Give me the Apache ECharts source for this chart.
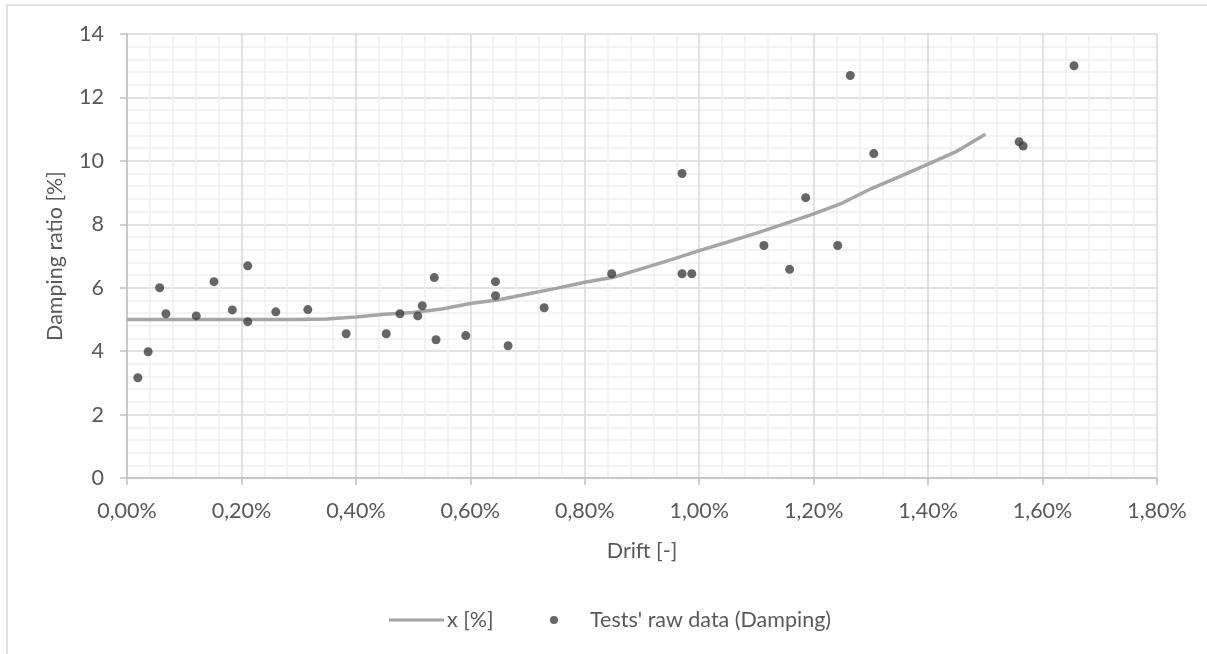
<!DOCTYPE html>
<html>
<head>
<meta charset="utf-8">
<script src="https://cdn.jsdelivr.net/npm/echarts@6/dist/echarts.min.js"></script>
<style>
html, body { margin: 0; padding: 0; background: #fff; }
#main { width: 1207px; height: 654px; }
</style>
</head>
<body>
<div id="main"></div>
<script>
// drift in %, damping ratio in %
var testDrift = [0.019, 0.037, 0.057, 0.068, 0.121, 0.152, 0.184, 0.211, 0.211, 0.260, 0.316, 0.383,
	0.453, 0.477, 0.508, 0.516, 0.537, 0.540, 0.592, 0.644, 0.644, 0.666, 0.729, 0.847,
	0.970, 0.970, 0.987, 1.113, 1.158, 1.186, 1.242, 1.264, 1.305, 1.559, 1.566, 1.655];
var testDamping = [3.16, 3.98, 6.00, 5.18, 5.11, 6.19, 5.30, 6.69, 4.93, 5.24, 5.31, 4.55,
	4.55, 5.18, 5.11, 5.43, 6.32, 4.36, 4.49, 6.19, 5.75, 4.17, 5.37, 6.44,
	9.60, 6.44, 6.44, 7.33, 6.58, 8.84, 7.33, 12.69, 10.23, 10.60, 10.47, 13.00];

var curveDrift = [0.00, 0.05, 0.10, 0.15, 0.20, 0.25, 0.30, 0.35, 0.38, 0.40, 0.45, 0.50,
	0.55, 0.60, 0.65, 0.70, 0.75, 0.80, 0.85, 0.90, 0.95, 1.00, 1.05, 1.10,
	1.15, 1.20, 1.25, 1.30, 1.35, 1.40, 1.45, 1.50];
var curveDamping = [5.00, 5.00, 5.00, 5.00, 5.00, 5.00, 5.00, 5.01, 5.05, 5.08, 5.16, 5.22,
	5.33, 5.50, 5.62, 5.80, 5.98, 6.17, 6.33, 6.60, 6.88, 7.17, 7.44, 7.72,
	8.02, 8.33, 8.67, 9.12, 9.50, 9.90, 10.30, 10.84];

var seriesNames = ['x [%]', "Tests' raw data (Damping)"];

var myChart = echarts.init(document.getElementById('main'));

var lineData = [];
for (var i = 0; i < curveDrift.length; i++) {
	lineData.push([curveDrift[i], curveDamping[i]]);
}
var dotData = [];
for (var j = 0; j < testDrift.length; j++) {
	dotData.push([testDrift[j], testDamping[j]]);
}

var txtColor = '#595959';
var fontFam = 'Lato, "Noto Sans", sans-serif';
var fs = 21.5;

var option = {
	animation: false,
	backgroundColor: '#fff',
	textStyle: { fontFamily: fontFam },
	grid: { left: 127, top: 34, right: 50, bottom: 176 },
	graphic: [
		{ type: 'rect', silent: true, shape: { x: 7, y: 5, width: 1400, height: 900 },
			style: { fill: null, stroke: '#d9d9d9', lineWidth: 1.5 } },
		{ type: 'text', x: 55, y: 256, rotation: Math.PI / 2,
			style: { text: 'Damping ratio [%]', fill: txtColor, font: fs + 'px ' + fontFam, align: 'center', verticalAlign: 'middle' } },
		{ type: 'text', x: 642, y: 551,
			style: { text: 'Drift [-]', fill: txtColor, font: fs + 'px ' + fontFam, align: 'center', verticalAlign: 'middle' } }
	],
	legend: [
		{ data: [{ name: seriesNames[0], icon: 'rect' }], left: 389, top: 609, padding: 0,
			itemWidth: 55, itemHeight: 3, itemGap: 5,
			textStyle: { color: txtColor, fontSize: fs, fontFamily: fontFam, padding: [0, 0, 0, -2] } },
		{ data: [{ name: seriesNames[1], icon: 'circle' }], left: 550, top: 609, padding: 0,
			itemWidth: 8, itemHeight: 8, itemGap: 5,
			textStyle: { color: txtColor, fontSize: fs, fontFamily: fontFam, padding: [0, 0, 0, 27] } }
	],
	xAxis: {
		type: 'value', min: 0, max: 1.8, interval: 0.2,
		axisLine: { show: true, onZero: false, lineStyle: { color: '#bfbfbf', width: 1.5 } },
		axisTick: { show: true, length: 7, lineStyle: { color: '#bfbfbf', width: 1.5 } },
		axisLabel: { color: txtColor, fontSize: fs, margin: 22,
			formatter: function (v) { return v.toFixed(2).replace('.', ',') + '%'; } },
		splitLine: { show: true, lineStyle: { color: '#d9d9d9', width: 1.5 } },
		minorTick: { show: false, splitNumber: 5 },
		minorSplitLine: { show: true, lineStyle: { color: '#f0f0f0', width: 1.5 } }
	},
	yAxis: {
		type: 'value', min: 0, max: 14, interval: 2,
		axisLine: { show: true, lineStyle: { color: '#bfbfbf', width: 1.5 } },
		axisTick: { show: true, length: 7, lineStyle: { color: '#bfbfbf', width: 1.5 } },
		axisLabel: { color: txtColor, fontSize: fs, margin: 23 },
		splitLine: { show: true, lineStyle: { color: '#d9d9d9', width: 1.5 } },
		minorTick: { show: false, splitNumber: 5 },
		minorSplitLine: { show: true, lineStyle: { color: '#f0f0f0', width: 1.5 } }
	},
	series: [
		{
			name: seriesNames[0], type: 'line', data: lineData,
			symbol: 'none', smooth: false, z: 2,
			itemStyle: { color: '#a5a5a5' },
			lineStyle: { color: '#a5a5a5', width: 3.5 }
		},
		{
			name: seriesNames[1], type: 'scatter', data: dotData,
			symbol: 'circle', symbolSize: 9, z: 3,
			itemStyle: { color: '#404040' }
		}
	]
};

myChart.setOption(option);
</script>
</body>
</html>
